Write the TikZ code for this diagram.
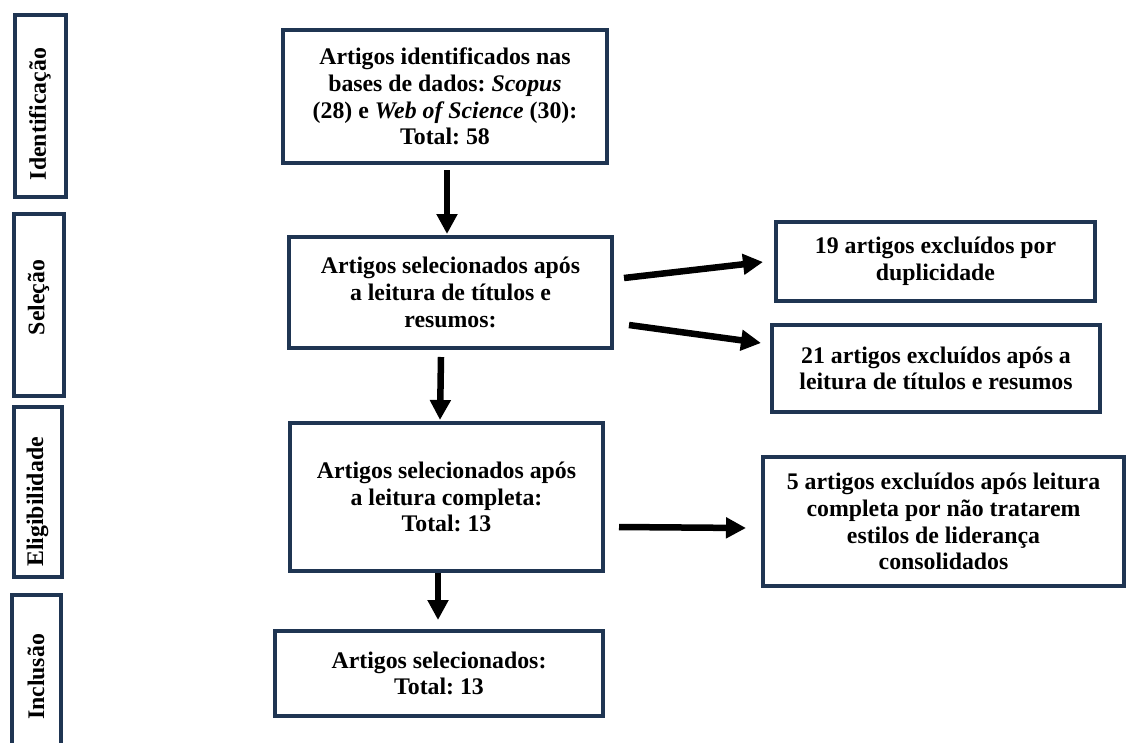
\documentclass[tikz,border=0pt]{standalone}
\usepackage{fontspec}
\setmainfont{Liberation Serif}
\usetikzlibrary{arrows.meta}
\frenchspacing

\definecolor{boxblue}{HTML}{1F3552}

\tikzset{
  etapa/.style={draw=boxblue, line width=4pt, align=center, inner sep=0pt,
    font=\bfseries\fontsize{23.8}{26.7}\selectfont},
  fase/.style={etapa, rotate=90},
  seta/.style={-{Triangle[width=20pt,length=20pt]}, line width=6.5pt}
}

\begin{document}
\begin{tikzpicture}[x=1pt, y=-1pt]
\useasboundingbox (0,0) rectangle (1127,742);

% fases
\node[fase, minimum width=182, minimum height=51] (fid) at (40,105.5) {Identificação\hspace*{17pt}};
\node[fase, minimum width=182, minimum height=50] (fsel) at (38.5,304.5) {\hspace*{14pt}Seleção};
\node[fase, minimum width=170, minimum height=48] (fel) at (37.5,491.5) {Eligibilidade\hspace*{21pt}};
\node[fase, minimum width=165, minimum height=49] (finc) at (36,677) {Inclusão};

% fluxo principal
\node[etapa, minimum width=324, minimum height=133] (ident) at (445,96.5)
  {Artigos identificados nas\\ bases de dados: \textit{Scopus}\\ (28) e \textit{Web of Science} (30):\\ Total: 58};
\node[etapa, minimum width=323, minimum height=111] (sel) at (450.5,292.5)
  {Artigos selecionados após\\ a leitura de títulos e\\ resumos:};
\node[etapa, minimum width=313, minimum height=148] (eleg) at (446.5,497)
  {Artigos selecionados após\\ a leitura completa:\\ Total: 13};
\node[etapa, minimum width=328, minimum height=85] (incl) at (439,673.5)
  {Artigos selecionados:\\ Total: 13};

% exclusoes
\node[etapa, minimum width=319, minimum height=79] (dup) at (935.5,261.5)
  {19 artigos excluídos por\\ duplicidade};
\node[etapa, minimum width=328, minimum height=87] (res) at (936,368.5)
  {21 artigos excluídos após a\\ leitura de títulos e resumos};
\node[etapa, minimum width=361, minimum height=129] (excl) at (943.5,521.5)
  {5 artigos excluídos após leitura\\ completa por não tratarem\\ estilos de liderança\\ consolidados};

% setas
\draw[seta] ([shift={(2,5)}]ident.south) -- ([shift={(-3.5,-1)}]sel.north);
\draw[seta] ([shift={(-9.5,7)}]sel.south) -- ([shift={(-6.5,-1)}]eleg.north);
\draw[seta] ([shift={(-8.5,0)}]eleg.south) -- ([shift={(-1,-9)}]incl.north);
\draw[seta] ([shift={(10,-14.5)}]sel.east) -- ([shift={(-11,0.5)}]dup.west);
\draw[seta] ([shift={(15,32.5)}]sel.east) -- ([shift={(-9,-25.5)}]res.west);
\draw[seta] ([shift={(14,30)}]eleg.east) -- ([shift={(-15,6.5)}]excl.west);
\end{tikzpicture}
\end{document}
